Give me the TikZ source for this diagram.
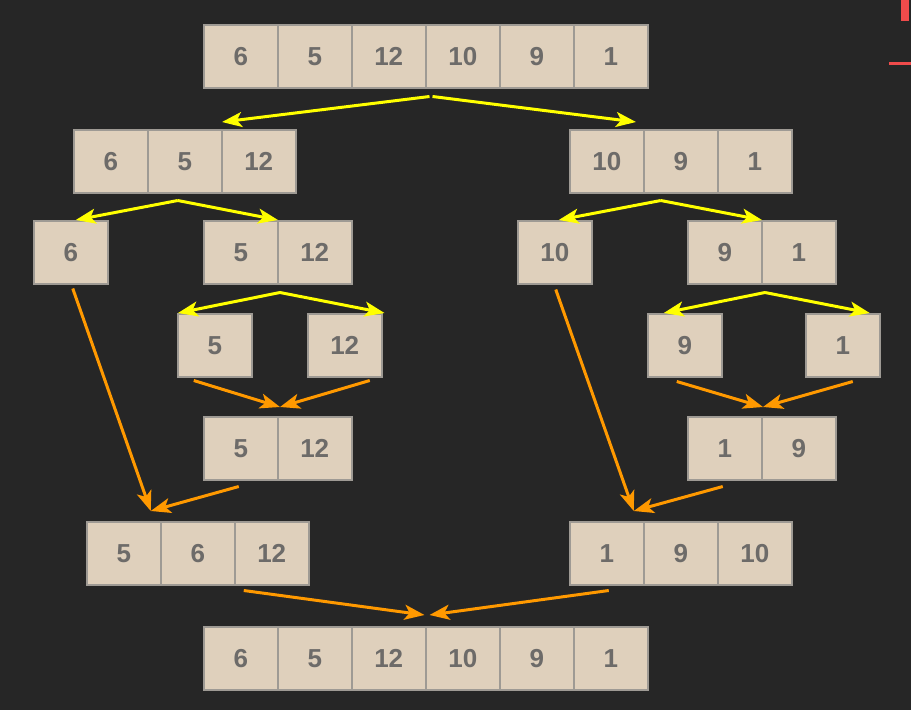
\documentclass[tikz,border=0pt]{standalone}
\usepackage{fontspec}
\setmainfont{Liberation Sans}
\usetikzlibrary{arrows.meta,calc}
\definecolor{bg}{HTML}{262626}
\definecolor{cellfill}{HTML}{DFD0BC}
\definecolor{cellborder}{HTML}{9E9A94}
\definecolor{celltext}{HTML}{6D6B69}
\definecolor{ylw}{HTML}{FFFF00}
\definecolor{org}{HTML}{FF9900}
\definecolor{redmark}{HTML}{EF4B4B}
\tikzset{
  cell/.style={draw=cellborder, fill=cellfill, line width=1.5pt, minimum width=74pt, minimum height=63pt,
    inner sep=0pt, anchor=north west, text=celltext, font=\fontsize{26}{26}\selectfont\bfseries},
  split/.style={draw=ylw, line width=3pt, -{Stealth[length=20pt,width=15pt,inset=5pt]}},
  merge/.style={draw=org, line width=3pt, -{Stealth[length=20pt,width=15pt,inset=5pt]}},
}
\newcommand\cellrow[4]{%
  \foreach \v [count=\i] in {#4} {\node[cell] (#1-\i) at ({#2+(\i-1)*74}, #3) {\v};}%
}
\begin{document}
\begin{tikzpicture}[x=1pt,y=-1pt]
\useasboundingbox (0,0) rectangle (911,710);
\fill[bg] (0,0) rectangle (911,710);
% red marks at top right
\fill[redmark] (901,0) rectangle (909,21);
\fill[redmark] (889,62) rectangle (911,65);
% arrays
\cellrow{A}{203}{24}{6,5,12,10,9,1}
\cellrow{BL}{73}{129}{6,5,12}
\cellrow{BR}{569}{129}{10,9,1}
\cellrow{CA}{33}{220}{6}
\cellrow{CB}{203}{220}{5,12}
\cellrow{CC}{517}{220}{10}
\cellrow{CD}{687}{220}{9,1}
\cellrow{DA}{177}{313}{5}
\cellrow{DB}{307}{313}{12}
\cellrow{DC}{647}{313}{9}
\cellrow{DD}{805}{313}{1}
\cellrow{EA}{203}{416}{5,12}
\cellrow{EB}{687}{416}{1,9}
\cellrow{FA}{86}{521}{5,6,12}
\cellrow{FB}{569}{521}{1,9,10}
\cellrow{G}{203}{626}{6,5,12,10,9,1}
% connector end points
\coordinate (a1) at ($(A-3.south east)+(3,8)$);
\coordinate (a2) at ($(A-3.south east)+(6,8)$);
\coordinate (bl) at ($(BL-3.north west)+(1,-7)$);
\coordinate (br) at ($(BR-2.north west)+(-7,-7)$);
\coordinate (b1) at ($(BL-2.south)+(-7,7)$);
\coordinate (b2) at ($(BR-2.south)+(-20,7)$);
\coordinate (ca) at ($(CA-1.north)+(5,0)$);
\coordinate (cb) at ($(CB-2.north west)+(1,0)$);
\coordinate (cc) at ($(CC-1.north)+(4,0)$);
\coordinate (cd) at ($(CD-2.north west)+(1,0)$);
\coordinate (c2) at ($(CB-2.south west)+(3,8)$);
\coordinate (c4) at ($(CD-2.south west)+(4,8)$);
\coordinate (da) at ($(DA-1.north west)+(1,0)$);
\coordinate (db) at ($(DB-1.north east)+(2,0)$);
\coordinate (dc) at ($(DC-1.north)+(-21,0)$);
\coordinate (dd) at ($(DD-1.north)+(27,0)$);
\coordinate (ea1) at ($(DA-1.south)+(-21,3)$);
\coordinate (ea2) at ($(DB-1.south)+(25,3)$);
\coordinate (eb1) at ($(DC-1.south)+(-8,4)$);
\coordinate (eb2) at ($(DD-1.south)+(10,4)$);
\coordinate (ta) at ($(EA-2.north west)+(3,-9)$);
\coordinate (tb) at ($(EB-2.north west)+(2,-9)$);
\coordinate (c1s) at ($(CA-1.south)+(2,4)$);
\coordinate (c3s) at ($(CC-1.south)+(1,5)$);
\coordinate (e1s) at ($(EA-1.south)+(-2,6)$);
\coordinate (e2s) at ($(EB-1.south)+(-2,6)$);
\coordinate (fa) at ($(FA-1.north)+(27,-10)$);
\coordinate (fb) at ($(FB-1.north)+(27,-10)$);
\coordinate (f1s) at ($(FA-3.south)+(-28,5)$);
\coordinate (f2s) at ($(FB-1.south)+(2,5)$);
\coordinate (g1) at ($(G-3.north east)+(-2,-11)$);
\coordinate (g2) at ($(G-3.north east)+(3,-11)$);
% split arrows
\draw[split] (a1) -- (bl);
\draw[split] (a2) -- (br);
\draw[split] (b1) -- (ca);
\draw[split] (b1) -- (cb);
\draw[split] (b2) -- (cc);
\draw[split] (b2) -- (cd);
\draw[split] (c2) -- (da);
\draw[split] (c2) -- (db);
\draw[split] (c4) -- (dc);
\draw[split] (c4) -- (dd);
% merge arrows
\draw[merge] (ea1) -- (ta);
\draw[merge] (ea2) -- (ta);
\draw[merge] (eb1) -- (tb);
\draw[merge] (eb2) -- (tb);
\draw[merge] (c1s) -- (fa);
\draw[merge] (e1s) -- (fa);
\draw[merge] (c3s) -- (fb);
\draw[merge] (e2s) -- (fb);
\draw[merge] (f1s) -- (g1);
\draw[merge] (f2s) -- (g2);
\end{tikzpicture}
\end{document}
